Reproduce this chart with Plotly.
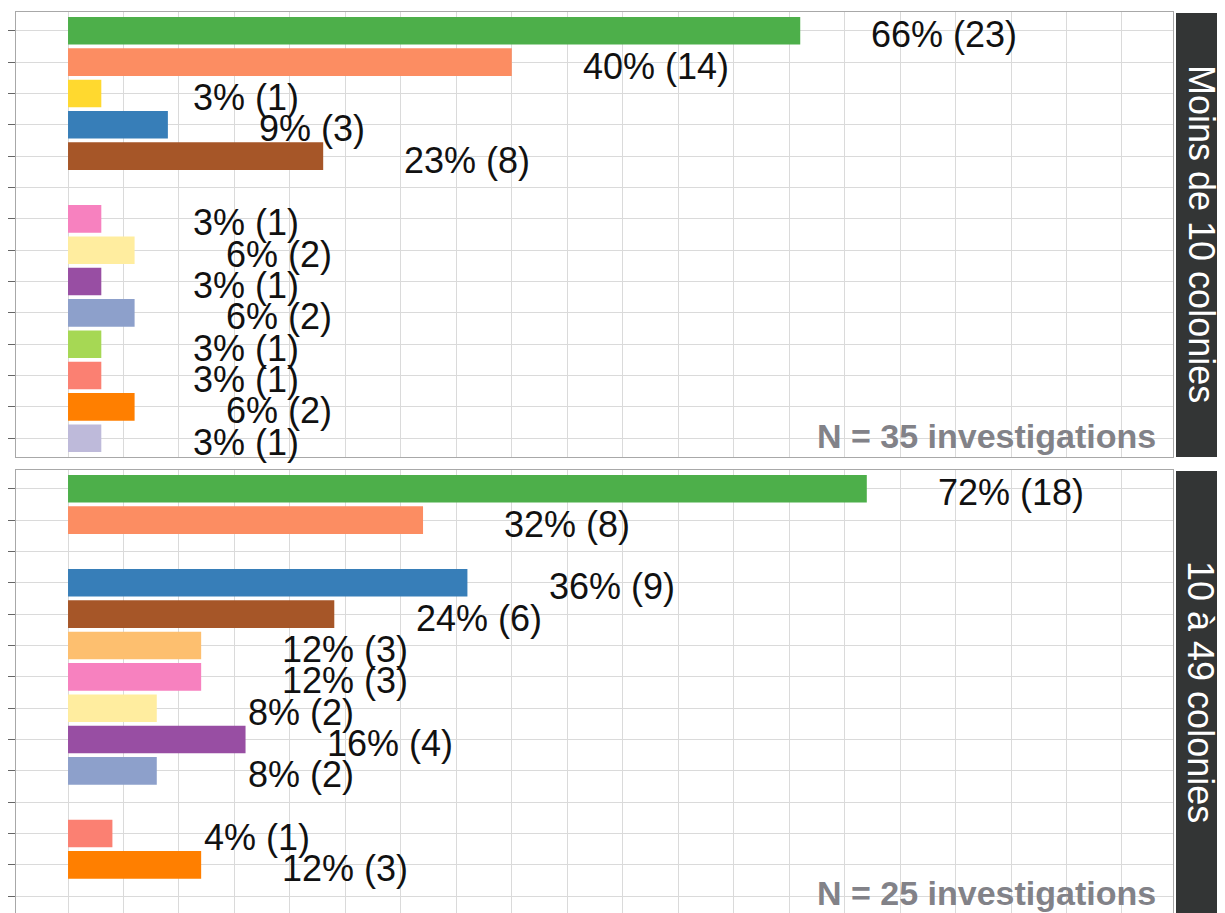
"""Horizontal bar chart in two facets (colony size), percent of investigations."""

import plotly.graph_objects as go

# hidden row labels (the tick labels are outside the picture)
categories = [f"Cause {i}" for i in range(1, 15)]
bar_colors = [
    "#4DAF4A", "#FC8D62", "#FFD92F", "#377EB8", "#A65628", "#FDBF6F", "#F781BF",
    "#FFED9F", "#984EA3", "#8DA0CB", "#A6D854", "#FB8072", "#FF7F00", "#BEBADA",
]

panel_names = ["Moins de 10 colonies", "10 à 49 colonies"]
panel_totals = [35, 25]

pct_small = [66, 40, 3, 9, 23, None, 3, 6, 3, 6, 3, 3, 6, 3]
n_small = [23, 14, 1, 3, 8, None, 1, 2, 1, 2, 1, 1, 2, 1]
pct_mid = [72, 32, None, 36, 24, 12, 12, 8, 16, 8, None, 4, 12, None]
n_mid = [18, 8, None, 9, 6, 3, 3, 2, 4, 2, None, 1, 3, None]

LABEL_OFFSET = 13  # label sits this many % right of the bar end
PAGE_W, PAGE_H = 1225, 913
BODY = 8  # default body margin of the html page
W, H = PAGE_W - BODY, PAGE_H - BODY
FONT = "Liberation Sans, Arial, sans-serif"


def px_x(x):
    return (x - BODY) / W


def px_y(y):
    return 1 - (y - BODY) / H


# panel placement in page pixels (top, bottom); bottom facet is cut by the edge
panels_px = [(12, 457), (470, 913)]
strip_centers = [234, 692]
row_px = 31.34

fig = go.Figure()
shapes, annotations = [], []
pct_sets = [pct_small, pct_mid]
n_sets = [n_small, n_mid]

for i, (top, bot) in enumerate(panels_px):
    ax = "" if i == 0 else "2"
    pcts, ns = pct_sets[i], n_sets[i]
    fig.add_trace(go.Bar(
        x=pcts, y=categories, orientation="h", width=0.88,
        marker=dict(color=bar_colors, line=dict(width=0)),
        xaxis="x" + ax, yaxis="y" + ax, showlegend=False, hoverinfo="x+y",
    ))
    dom = [max(px_y(bot), 0), px_y(top)]
    y_bottom = -0.6 + (bot - top) / row_px
    fig.update_layout({
        "xaxis" + ax: dict(
            domain=[px_x(16), px_x(1173)], range=[-4.69, 99.6],
            tick0=0, dtick=5, showgrid=True, gridcolor="#DADADA", gridwidth=1,
            zeroline=False, showticklabels=False, ticks="",
            showline=True, mirror=True, linecolor="#A8A8A8", linewidth=1,
            anchor="y" + ax,
        ),
        "yaxis" + ax: dict(
            domain=dom, type="category", categoryorder="array",
            categoryarray=categories, range=[y_bottom, -0.6],
            showgrid=True, gridcolor="#DADADA", gridwidth=1,
            showticklabels=False, ticks="outside", ticklen=8,
            tickcolor="#666666", tickwidth=1,
            showline=True, mirror=True, linecolor="#A8A8A8", linewidth=1,
            anchor="x" + ax,
        ),
    })

    # value labels
    for cat, p, n in zip(categories, pcts, ns):
        if p is None:
            continue
        annotations.append(dict(
            x=p + LABEL_OFFSET, y=cat, xref="x" + ax, yref="y" + ax,
            text=f"{p}% ({n})", showarrow=False, xanchor="center",
            yanchor="middle", yshift=-4,
            font=dict(family=FONT, size=36, color="#111111"),
        ))

    # facet strip on the right
    shapes.append(dict(
        type="rect", xref="paper", yref="paper",
        x0=px_x(1176), x1=1.0, y0=dom[0], y1=px_y(top + 1),
        fillcolor="#333535", line=dict(width=0), layer="above",
    ))
    annotations.append(dict(
        x=px_x(1201), y=px_y(strip_centers[i]), xref="paper", yref="paper",
        text=panel_names[i], textangle=90, showarrow=False,
        xanchor="center", yanchor="middle",
        font=dict(family=FONT, size=36, color="#FFFFFF"),
    ))

    # sample size note
    n_y = 436 if i == 0 else 893
    annotations.append(dict(
        x=px_x(1158), y=px_y(n_y), xref="paper", yref="paper",
        text=f"<b>N = {panel_totals[i]} investigations</b>", showarrow=False,
        xanchor="right", yanchor="middle",
        font=dict(family=FONT, size=34, color="#828288"),
    ))

fig.update_layout(
    width=W, height=H, margin=dict(l=0, r=0, t=0, b=0),
    paper_bgcolor="#FFFFFF", plot_bgcolor="#FFFFFF",
    barmode="overlay", shapes=shapes, annotations=annotations,
)

fig.write_html("out.html")
